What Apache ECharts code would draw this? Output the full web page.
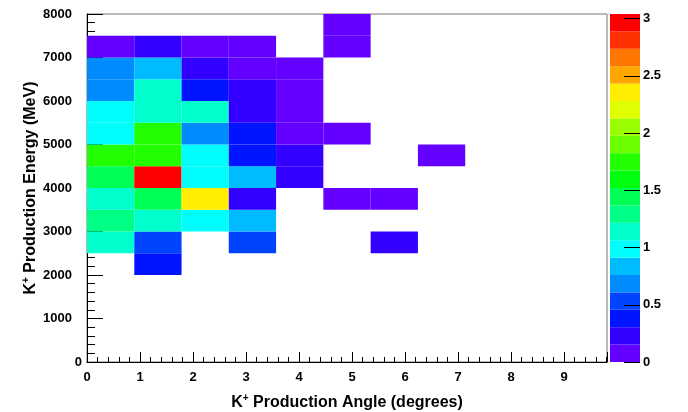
<!DOCTYPE html>
<html>
<head>
<meta charset="utf-8">
<script src="https://cdn.jsdelivr.net/npm/echarts@6/dist/echarts.min.js"></script>
<style>
html,body{margin:0;padding:0;background:#fff;}
#chart{width:688px;height:412px;}
</style>
</head>
<body>
<div id="chart"></div>
<script>
// Angle bin low edges (degrees), last entry = upper edge of last bin
const angleEdges = [0, 0.892, 1.784, 2.675, 3.567, 4.459, 5.351, 6.243, 7.135, 8.026, 8.918, 9.81];
// Energy bin low edges (MeV), bin width 500
const energyEdges = [2000, 2500, 3000, 3500, 4000, 4500, 5000, 5500, 6000, 6500, 7000, 7500, 8000];
// Bin contents: one row per energy bin (2000..7500), one column per angle bin (0..7); null = empty
const row2000 = [null, 0.38, null, null, null, null, null, null];
const row2500 = [1.14, 0.53, null, 0.53, null, null, 0.23, null];
const row3000 = [1.29, 1.14, 0.99, 0.84, null, null, null, null];
const row3500 = [1.14, 1.44, 2.36, 0.23, null, 0.08, 0.08, null];
const row4000 = [1.44, 3.04, 0.99, 0.84, 0.23, null, null, null];
const row4500 = [1.75, 1.75, 0.99, 0.38, 0.23, null, null, 0.08];
const row5000 = [0.99, 1.75, 0.68, 0.38, 0.08, 0.08, null, null];
const row5500 = [0.99, 1.14, 1.14, 0.23, 0.08, null, null, null];
const row6000 = [0.68, 1.14, 0.38, 0.23, 0.08, null, null, null];
const row6500 = [0.68, 0.84, 0.23, 0.08, 0.08, null, null, null];
const row7000 = [0.08, 0.23, 0.08, 0.08, null, 0.08, null, null];
const row7500 = [null, null, null, null, null, 0.08, null, null];
const contentRows = [row2000, row2500, row3000, row3500, row4000, row4500, row5000, row5500, row6000, row6500, row7000, row7500];
// Color axis
const zMin = 0;
const zMax = 3.04;
const nLevels = 20;
const xTickLabels = [0,1,2,3,4,5,6,7,8,9];
const yTickLabels = [0,1000,2000,3000,4000,5000,6000,7000,8000];
const zTickLabels = [0,0.5,1,1.5,2,2.5,3];

const palette = ['#6300ff','#3300ff','#0014ff','#0044ff','#008bff','#00bbff','#00fffc','#00ffcc','#00ff85','#00ff55',
                 '#00ff0e','#22ff00','#69ff00','#99ff00','#e0ff00','#ffee00','#ffa700','#ff7700','#ff3000','#ff0000'];

function levelOf(v){
  let k = Math.floor((v - zMin) / (zMax - zMin) * nLevels);
  return Math.max(0, Math.min(nLevels - 1, k));
}

const cellData = [];
contentRows.forEach((row, r) => {
  row.forEach((v, c) => {
    if (v !== null) cellData.push([angleEdges[c], angleEdges[c+1], energyEdges[r], energyEdges[r+1], v]);
  });
});
const barData = [];
for (let k = 0; k < nLevels; k++) {
  const lo = zMin + (zMax - zMin) * k / nLevels;
  const hi = zMin + (zMax - zMin) * (k + 1) / nLevels;
  barData.push([lo, hi, k]);
}

const FONT = 'Liberation Sans';
const labelStyle = {fontFamily: FONT, fontWeight: 'bold', fontSize: 13, color: '#000'};

const chart = echarts.init(document.getElementById('chart'), null, {renderer: 'canvas'});
chart.setOption({
  animation: false,
  backgroundColor: '#fff',
  grid: [
    {left: 87, top: 14, width: 520, height: 348, show: true, borderColor: '#777', borderWidth: 1, backgroundColor: 'transparent', outerBoundsMode: 'none', containLabel: false},
    {left: 610, top: 14, width: 30, height: 348, show: false, outerBoundsMode: 'none', containLabel: false}
  ],
  xAxis: [
    {
      type: 'value', gridIndex: 0, min: 0, max: angleEdges[angleEdges.length-1], interval: 1,
      axisLine: {show: true, onZero: false, lineStyle: {color: '#000', width: 1}},
      axisTick: {show: true, inside: true, length: 10, lineStyle: {color: '#000'}},
      minorTick: {show: true, splitNumber: 5, length: 5, lineStyle: {color: '#000'}},
      splitLine: {show: false},
      axisLabel: Object.assign({margin: 9, showMaxLabel: false, formatter: v => xTickLabels.includes(v) ? String(v) : ''}, labelStyle),
      name: 'K{sup|+} Production Angle (degrees)',
      nameLocation: 'middle', nameGap: 31, nameMoveOverlap: false,
      nameTextStyle: {fontFamily: FONT, fontWeight: 'bold', fontSize: 16, color: '#000',
        rich: {sup: {fontFamily: FONT, fontWeight: 'bold', fontSize: 10, padding: [0,0,9,0]}}}
    },
    {type: 'value', gridIndex: 1, min: 0, max: 1, show: false}
  ],
  yAxis: [
    {
      type: 'value', gridIndex: 0, min: 0, max: 8000, interval: 1000,
      axisLine: {show: true, onZero: false, lineStyle: {color: '#000', width: 1}},
      axisTick: {show: true, inside: true, length: 16, lineStyle: {color: '#000'}},
      minorTick: {show: true, splitNumber: 5, length: 8, lineStyle: {color: '#000'}},
      splitLine: {show: false},
      axisLabel: Object.assign({margin: 5, formatter: v => v === 0 ? '0' : '{p|' + v + '}',
        rich: {p: {fontFamily: FONT, fontWeight: 'bold', fontSize: 13, padding: [0, 10, 0, 0]}}}, labelStyle),
      name: 'K{sup|+} Production Energy (MeV)',
      nameLocation: 'middle', nameGap: 47, nameRotate: 90, nameMoveOverlap: false,
      nameTextStyle: {fontFamily: FONT, fontWeight: 'bold', fontSize: 16, color: '#000',
        rich: {sup: {fontFamily: FONT, fontWeight: 'bold', fontSize: 10, padding: [0,0,9,0]}}}
    },
    {
      type: 'value', gridIndex: 1, min: zMin, max: zMax, interval: 0.5, position: 'left', offset: -30, z: 10,
      axisLine: {show: false},
      axisTick: {show: true, inside: false, length: 16, lineStyle: {color: '#000'}},
      splitLine: {show: false},
      axisLabel: Object.assign({inside: true, margin: 3, align: 'left', showMaxLabel: false, formatter: v => zTickLabels.includes(v) ? String(v) : ''}, labelStyle)
    }
  ],
  series: [
    {
      type: 'custom', xAxisIndex: 0, yAxisIndex: 0, data: cellData, z: 1,
      renderItem: function(params, api){
        const p1 = api.coord([api.value(0), api.value(3)]);
        const p2 = api.coord([api.value(1), api.value(2)]);
        return {type: 'rect', shape: {x: p1[0], y: p1[1], width: p2[0]-p1[0], height: p2[1]-p1[1]},
          style: {fill: palette[levelOf(api.value(4))]}};
      }
    },
    {
      type: 'custom', xAxisIndex: 1, yAxisIndex: 1, data: barData, z: 1,
      renderItem: function(params, api){
        const p1 = api.coord([0, api.value(1)]);
        const p2 = api.coord([1, api.value(0)]);
        return {type: 'rect', shape: {x: p1[0], y: p1[1], width: p2[0]-p1[0], height: p2[1]-p1[1]},
          style: {fill: palette[api.value(2)]}};
      }
    }
  ]
});
</script>
</body>
</html>
